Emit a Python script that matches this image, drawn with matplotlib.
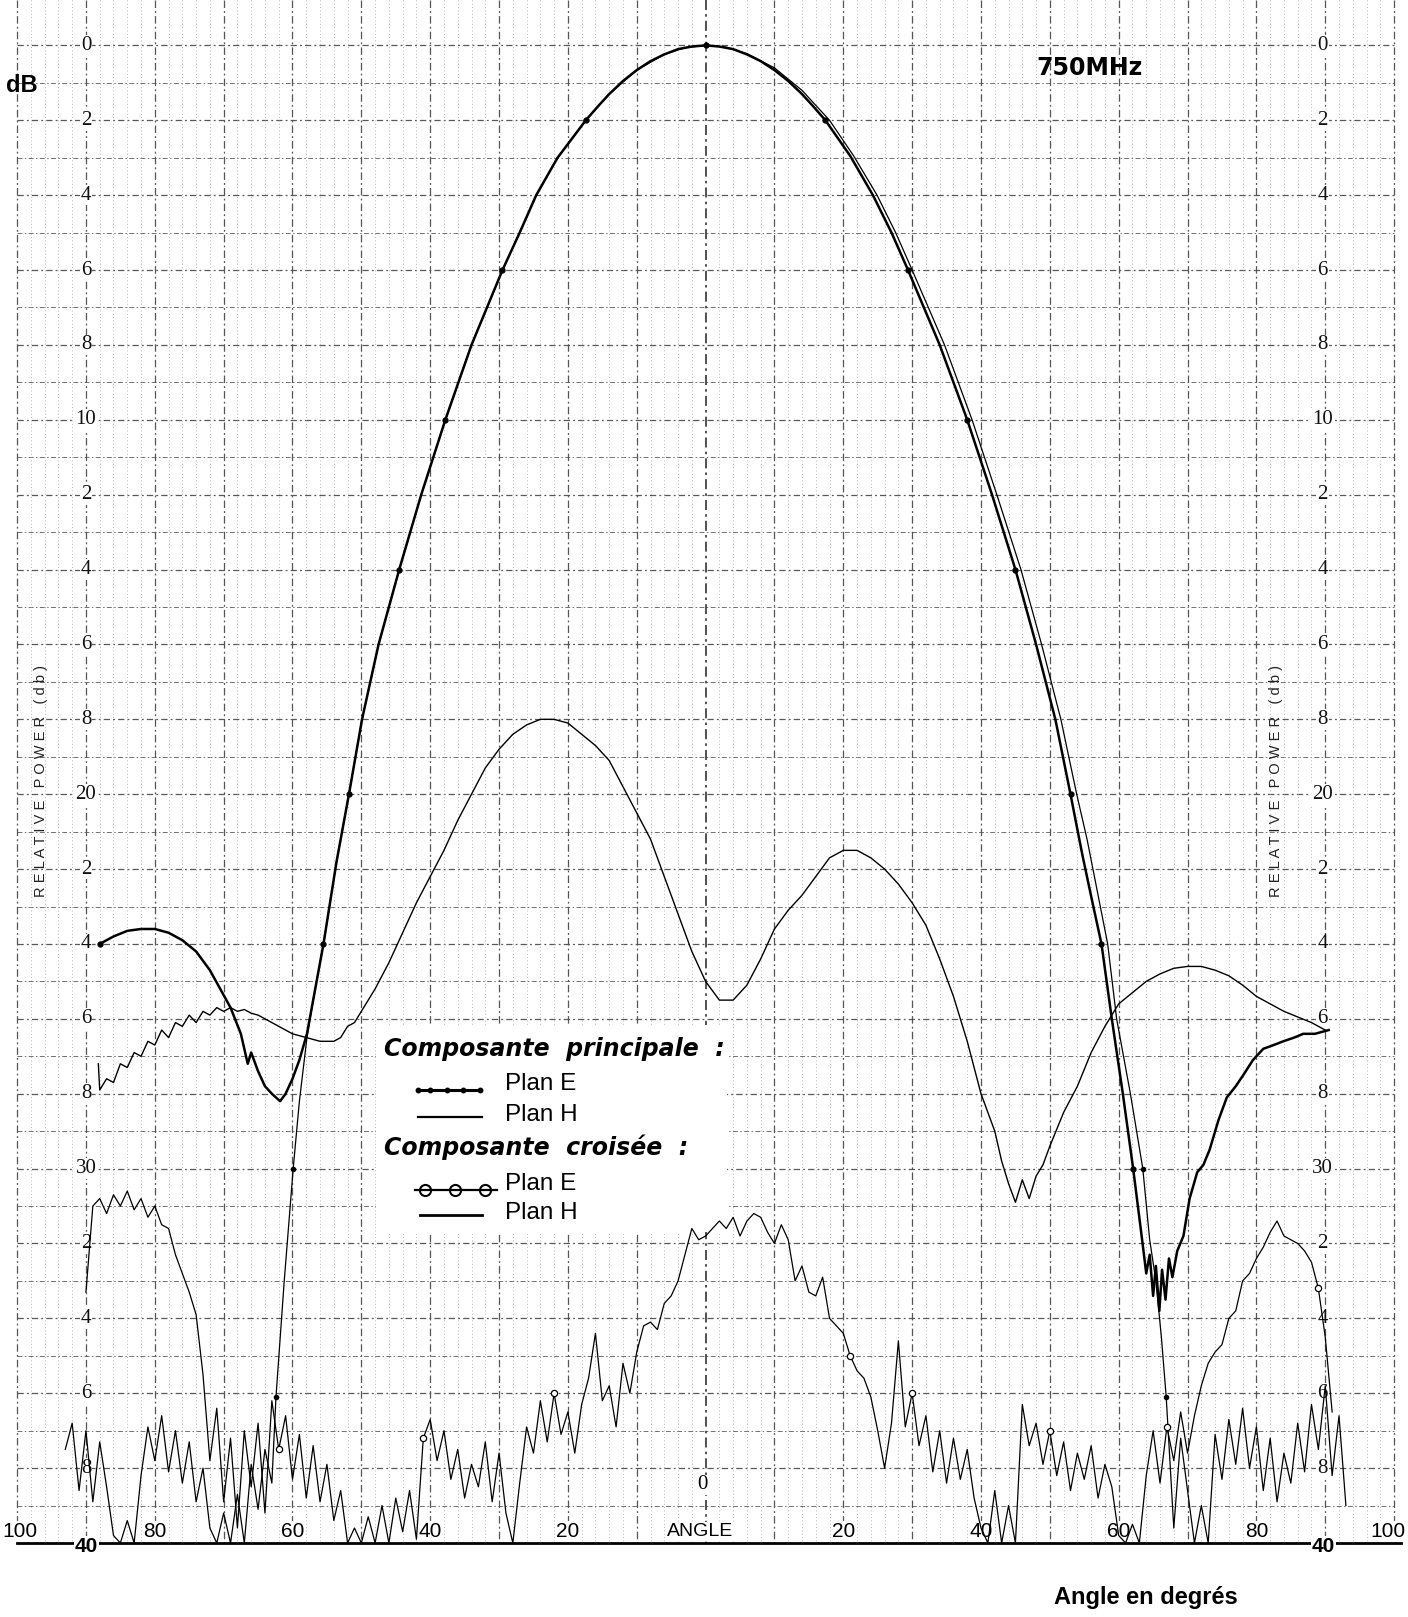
import numpy as np
import matplotlib
matplotlib.use("Agg")
import matplotlib.pyplot as plt
from matplotlib.patches import Rectangle
from matplotlib.lines import Line2D

plt.rcParams['font.family'] = ['Liberation Sans', 'DejaVu Sans']

# ---------------- data (angle in degrees, relative power in dB below peak) -------------
# Composante principale, plan E (thick line with dots)
pe_angle = [-88.0, -86.0, -84.0, -82.0, -80.0, -78.0, -76.0, -74.0, -72.0, -70.5, -69.0, -67.5,
            -66.5, -66.0, -65.0, -64.0, -63.0, -61.8, -61.0, -60.0, -59.0, -57.9, -56.8, -55.5,
            -53.6, -51.8, -49.9, -47.5, -44.5, -41.3, -37.8, -34.0, -29.5, -27.0, -24.6, -21.5,
            -17.4, -15.5, -14.0, -12.0, -10.0, -8.0, -6.0, -4.0, -2.0, 0.0, 2.0, 4.0, 6.0, 8.0,
            10.0, 12.0, 14.0, 15.5, 17.4, 21.0, 24.3, 27.0,
            29.4, 34.0, 38.0, 41.6, 45.0, 48.0, 50.8, 53.0, 54.7, 56.2, 57.5, 59.0, 60.6, 62.1,
            63.4, 64.0, 64.5, 65.0, 65.4, 65.9, 66.3, 66.8, 67.3, 67.8, 68.5, 69.4, 70.3, 71.4,
            72.3, 73.2, 74.5, 75.7, 77.0, 78.1, 79.5, 81.0, 82.5, 83.9, 85.5, 86.8, 88.5, 90.5]
pe_db = [24.0, 23.8, 23.65, 23.6, 23.6, 23.7, 23.9, 24.2, 24.7, 25.2, 25.7, 26.4,
         27.2, 26.9, 27.4, 27.8, 28.0, 28.2, 28.0, 27.6, 27.1, 26.4, 25.3, 24.0,
         21.8, 20.0, 18.0, 16.0, 14.0, 12.0, 10.0, 8.0, 6.0, 5.0, 4.0, 3.0,
         2.0, 1.6, 1.3, 0.95, 0.66, 0.42, 0.24, 0.1, 0.03, 0.0, 0.03, 0.1, 0.24, 0.42,
         0.66, 0.95, 1.3, 1.6, 2.0, 2.95, 4.0, 5.0,
         6.0, 8.0, 10.0, 12.0, 14.0, 16.0, 18.0, 20.0, 21.6, 22.9, 24.0, 26.0, 28.0, 30.0,
         31.9, 32.8, 32.3, 33.4, 32.6, 33.8, 32.7, 33.5, 32.4, 32.9, 32.2, 31.8, 30.8, 30.1,
         29.9, 29.5, 28.7, 28.1, 27.8, 27.5, 27.1, 26.8, 26.7, 26.6, 26.5, 26.4, 26.4, 26.3]

# Composante principale, plan H (thin line)
ph_angle = [-93, -92, -91, -90, -89, -88, -87, -86, -85, -84, -83, -82, -81, -80, -79, -78,
            -77, -76, -75, -74, -73, -72, -71, -70, -69, -68, -67, -66, -65, -64, -63,
            -62.4, -61.2, -59.9, -59.0, -57.9, -56.8, -55.5, -53.6, -51.8, -49.9, -47.5,
            -44.5, -41.3, -37.8, -34.0, -29.5, -27.0, -24.6, -21.5, -17.4, -14.0, -10.0,
            -6.0, -3.0, 0.0, 3.0, 6.0, 10.0, 14.0, 18.0, 21.5, 24.9, 27.6, 30.0, 34.7, 38.7,
            42.3, 45.8, 48.8, 51.6, 53.9, 55.4, 58.4, 59.7, 61.7, 63.5, 64.5, 65.4, 66.2,
            66.9, 67.5, 68.0, 69, 70, 71, 72, 73, 74, 75, 76, 77, 78, 79, 80, 81, 82, 83,
            84, 85, 86, 87, 88, 89, 90, 91, 92, 93]
ph_db = [37.5, 36.8, 38.6, 37.0, 38.9, 37.3, 38.5, 39.8, 40.0, 39.4, 40.0, 38.2, 36.9, 37.8,
         36.6, 38.1, 37.0, 38.4, 37.3, 38.9, 38.0, 39.6, 40.0, 39.2, 40.0, 38.7, 40.0, 37.9,
         39.1, 37.5, 38.4,
         36.1, 33.0, 30.0, 28.2, 26.5, 25.3, 24.0, 21.8, 20.0, 18.0, 16.0,
         14.0, 12.0, 10.0, 8.0, 6.0, 5.0, 4.0, 3.0, 2.0, 1.3, 0.66,
         0.24, 0.06, 0.0, 0.05, 0.22, 0.6, 1.2, 2.0, 2.95, 4.0, 5.0, 6.0, 8.0, 10.0,
         12.0, 14.0, 16.0, 18.0, 20.0, 21.2, 24.0, 26.0, 28.0, 30.0, 31.9, 33.0, 34.5,
         36.1, 38.0, 39.6, 37.2, 38.6, 40.0, 39.0, 40.0, 37.1, 38.3, 36.7, 37.9, 36.4, 38.0,
         36.9, 38.6, 37.2, 38.9, 37.6, 38.4, 36.8, 38.1, 36.3, 37.5, 35.8, 38.2, 36.6, 39.0]

# Composante croisee, plan H (broad smooth curve)
ch_angle = [-88.2, -88, -87, -86, -85, -84, -83, -82, -81, -80, -79, -78, -77, -76, -75, -74,
            -73, -72, -71, -70, -69, -68, -67, -66, -65, -64, -62, -60, -58, -56, -54, -53,
            -52, -51, -50, -48, -46, -44, -42, -40, -38, -36, -34, -32, -30, -28, -26, -24,
            -22, -20, -18, -16, -14, -12, -10, -8, -6, -4, -2, 0, 2, 4, 6, 8, 10, 12, 14, 16,
            18, 20, 22, 24, 26, 28, 30, 32, 34, 36, 38, 40, 42, 43, 44, 45, 46, 47, 48, 49,
            50, 52, 54, 56, 58, 60, 62, 64, 66, 68, 70, 72, 74, 76, 78, 80, 82, 84, 86, 88, 90]
ch_db = [27.2, 27.9, 27.6, 27.7, 27.2, 27.3, 26.9, 27.0, 26.6, 26.7, 26.3, 26.5, 26.1, 26.2,
         25.9, 26.1, 25.8, 25.9, 25.7, 25.8, 25.7, 25.8, 25.75, 25.85, 25.9, 26.0, 26.2, 26.4,
         26.5, 26.6, 26.6, 26.5, 26.2, 26.1, 25.8, 25.2, 24.5, 23.7, 22.9, 22.2, 21.5, 20.7,
         20.0, 19.3, 18.8, 18.4, 18.15, 18.0, 18.0, 18.1, 18.4, 18.7, 19.1, 19.8, 20.5, 21.2,
         22.2, 23.2, 24.2, 25.0, 25.5, 25.5, 25.1, 24.4, 23.6, 23.1, 22.7, 22.2, 21.7, 21.5,
         21.5, 21.7, 22.0, 22.4, 22.9, 23.5, 24.4, 25.4, 26.6, 28.0, 29.0, 29.8, 30.4, 30.9,
         30.3, 30.8, 30.2, 29.9, 29.4, 28.5, 27.8, 26.9, 26.2, 25.6, 25.3, 25.0, 24.8, 24.65,
         24.6, 24.6, 24.7, 24.85, 25.1, 25.4, 25.6, 25.8, 25.95, 26.1, 26.3]

# Composante croisee, plan E (noisy trace with open circles)
ce_angle = list(range(-90, 92))
ce_db = [33.3, 31.0, 30.8, 31.2, 30.7, 31.0, 30.6, 31.1, 30.8, 31.3, 31.0, 31.5, 31.6, 32.3,
         32.8, 33.3, 33.9,                                                   # -90 .. -74
         35.5, 37.8, 36.4, 38.9, 37.2, 39.6, 37.0, 38.5, 36.8, 39.2, 36.2, 37.5, 36.6, 38.3,
         37.1, 38.8, 37.4, 38.9, 37.9, 39.4, 38.6, 40.0, 39.6, 40.0, 39.3, 40.0, 39.0, 40.0,
         38.8, 39.7, 38.6, 39.9, 37.2, 36.7, 37.8, 37.0, 38.3, 37.5, 38.8, 37.9, 38.5, 37.3,
         38.9, 37.6, 39.2, 40.0, 38.4, 36.9, 37.6, 36.2, 37.3, 36.0, 37.1, 36.5, 37.6, 36.3,
         35.6, 34.4, 36.2, 35.8, 36.9, 35.2, 36.0,                           # -73 .. -11
         34.9, 34.2, 34.1, 34.3, 33.6, 33.4, 33.0, 32.3, 31.6, 31.9, 31.8, 31.6, 31.4, 31.6,
         31.3, 31.8, 31.4, 31.2, 31.3, 31.7, 32.0, 31.5, 31.9, 33.0, 32.6, 33.3, 33.4, 32.9,
         34.0, 34.2, 34.4, 35.0, 35.4, 35.6, 36.1, 37.0, 38.0,               # -10 .. 26
         36.8, 34.6, 36.9, 36.0, 37.4, 36.6, 38.1, 37.0, 38.4, 37.2, 38.3, 37.5, 38.8, 39.6,
         40.0, 38.6, 40.0, 39.0, 40.0, 36.3, 37.4, 36.8, 37.9, 37.0, 38.2, 37.3, 38.6, 37.6,
         38.3, 37.4, 38.8, 37.9, 38.5, 39.8, 40.0, 39.5, 40.0, 38.2, 37.0, 38.4, 36.9, 37.8,
         36.5, 37.6, 36.6,                                                   # 27 .. 71
         35.8, 35.2, 34.9, 34.7, 34.0, 33.8, 33.0, 32.8, 32.4, 32.1, 31.7, 31.4, 31.8, 31.9,
         32.0, 32.2, 32.5, 33.2, 34.5, 36.5]                                 # 72 .. 91

# Axis labels
y_ticks = [0, 2, 4, 6, 8, 10, 12, 14, 16, 18, 20, 22, 24, 26, 28, 30, 32, 34, 36, 38]
y_ticklabels = ['0', '2', '4', '6', '8', '10', '2', '4', '6', '8', '20', '2', '4', '6', '8',
                '30', '2', '4', '6', '8']
x_ticks = [-100, -80, -60, -40, -20, 0, 20, 40, 60, 80, 100]
x_ticklabels = ['100', '80', '60', '40', '20', 'ANGLE', '20', '40', '60', '80', '100']

# ---------------- figure ----------------
W, H = 1408, 1617
fig = plt.figure(figsize=(W / 100, H / 100), dpi=100)
fig.patch.set_facecolor('white')
x0_px, deg_px = 705.6, 6.885
y0_px, db_px = 45.4, 37.44
xl = (-x0_px / deg_px, (W - x0_px) / deg_px)
ybot = 40.3
ytop = -y0_px / db_px
ax_h = (y0_px + ybot * db_px) / H
ax = fig.add_axes([0, 1 - ax_h, 1, ax_h])
ax.set_xlim(*xl)
ax.set_ylim(ybot, ytop)
ax.axis('off')


def fx(px):
    return px / W


def fy(py):
    return 1 - py / H


# graph-paper grid (light, broken dashes like a scanned chart paper)
for d in np.arange(0, 40, 1):
    ax.plot([-100, 100], [d, d], color='#707070' if d % 2 else '#585858',
            lw=0.7 if d % 2 else 0.9, ls=(0, (5, 2.5, 1.5, 2.5)), zorder=1)
for a in np.arange(-100, 101, 2):
    if a % 10:
        ax.plot([a, a], [ytop, 40], color='#a0a0a0', lw=0.6, ls=(0, (1, 3)), zorder=1)
for a in np.arange(-100, 101, 10):
    ax.plot([a, a], [ytop, 40], color='#555555' if a else '#333333',
            lw=0.9 if a else 1.2, ls=(0, (6, 2.5, 1.5, 2.5)), zorder=1)
ax.plot([-100, 101], [40, 40], color='black', lw=2.0, zorder=2)

# curves
mark_levels = (0.0, 2.0, 6.0, 10.0, 14.0, 20.0, 24.0, 30.0)
pe_marks = [i for i, d in enumerate(pe_db) if d in mark_levels]
ax.plot(pe_angle, pe_db, color='black', lw=1.8, marker='o', ms=3.5,
        markevery=pe_marks, zorder=5, solid_joinstyle='round')
ph_marks = [i for i, d in enumerate(ph_db) if d in (30.0, 36.1)]
ax.plot(ph_angle, ph_db, color='black', lw=0.9, marker='o', ms=3.0,
        markevery=ph_marks, zorder=5)
ax.plot(ch_angle, ch_db, color='black', lw=1.0, zorder=5)
ce_marks = [i for i, a in enumerate(ce_angle) if a in (-62, -41, -22, 21, 30, 50, 67, 89)]
ax.plot(ce_angle, ce_db, color='black', lw=0.9, marker='o', ms=4.5, mfc='white',
        mew=0.9, markevery=ce_marks, zorder=5)

# y tick labels (both sides) and x tick labels
lab_bg = dict(facecolor='white', edgecolor='none', pad=0.6)
for v, t in zip(y_ticks, y_ticklabels):
    for xa in (-90.0, 89.6):
        ax.text(xa, v, t, ha='center', va='center', fontsize=15,
                family=['Liberation Serif', 'DejaVu Serif'], color='#111111',
                bbox=lab_bg, zorder=3)
for xa in (-89.9, 89.7):
    ax.text(xa, 40.1, '40', ha='center', va='center', fontsize=15, fontweight='bold',
            bbox=lab_bg, zorder=3)
for a, t in zip(x_ticks, x_ticklabels):
    if a == -100:
        ax.text(xl[0] + 0.3, 39.7, t, ha='left', va='center', fontsize=15, bbox=lab_bg, zorder=3)
    elif a == 100:
        ax.text(xl[1] - 0.3, 39.7, t, ha='right', va='center', fontsize=15, bbox=lab_bg, zorder=3)
    else:
        ax.text(a if t != 'ANGLE' else -0.8, 39.7, t, ha='center', va='center',
                fontsize=14 if t == 'ANGLE' else 15, bbox=lab_bg, zorder=3)
ax.text(-0.4, 38.45, '0', ha='center', va='center', fontsize=15,
        family=['Liberation Serif', 'DejaVu Serif'], bbox=lab_bg, zorder=3)

ylab = '   '.join(' '.join(w) for w in ['RELATIVE', 'POWER', '(db)'])
ax.text(-96.5, 19.65, ylab, rotation=90, ha='center', va='center', fontsize=10.5,
        color='#222222', zorder=3)
ax.text(82.8, 19.65, ylab, rotation=90, ha='center', va='center', fontsize=10.5,
        color='#222222', zorder=3)

# titles
fig.text(fx(22), fy(86), 'dB', ha='center', va='center', fontsize=17, fontweight='bold')
fig.text(fx(1090), fy(68), '750MHz', ha='center', va='center', fontsize=17,
         fontweight='bold', family='DejaVu Sans')
fig.text(fx(1146), fy(1597), 'Angle en degrés', ha='center', va='center', fontsize=17,
         fontweight='bold')

# legend box (figure pixel layout)
tf = fig.transFigure
ax.add_patch(Rectangle((fx(376), fy(1232)), fx(727) - fx(376), fy(1025) - fy(1232),
                       transform=tf, facecolor='white', edgecolor='none', zorder=4))
hdr = dict(ha='left', va='center', fontsize=17, fontweight='bold', style='oblique',
           family='DejaVu Sans', transform=tf, zorder=6)
ent = dict(ha='left', va='center', fontsize=17.5, transform=tf, zorder=6)
ax.text(fx(384), fy(1049), 'Composante  principale  :', **hdr)
ax.text(fx(505), fy(1084), 'Plan E', **ent)
ax.text(fx(505), fy(1115), 'Plan H', **ent)
ax.text(fx(384), fy(1147), 'Composante  croisée  :', **hdr)
ax.text(fx(505), fy(1184), 'Plan E', **ent)
ax.text(fx(505), fy(1213), 'Plan H', **ent)
ax.add_line(Line2D([fx(418), fx(480)], [fy(1090), fy(1090)], transform=tf, color='black',
                   lw=2.2, marker='o', ms=3.2, markevery=[0, 1], zorder=6))
ax.add_line(Line2D([fx(430), fx(447), fx(463)], [fy(1090)] * 3, transform=tf, color='black',
                   lw=0, marker='o', ms=3.2, zorder=6))
ax.add_line(Line2D([fx(418), fx(482)], [fy(1117), fy(1117)], transform=tf, color='black',
                   lw=1.6, zorder=6))
ax.add_line(Line2D([fx(415), fx(497)], [fy(1190), fy(1190)], transform=tf, color='black',
                   lw=1.6, zorder=6))
ax.add_line(Line2D([fx(425), fx(455), fx(485)], [fy(1190)] * 3, transform=tf, color='black',
                   lw=0, marker='o', ms=8, mfc='none', mew=1.5, zorder=6))
ax.add_line(Line2D([fx(420), fx(482)], [fy(1215), fy(1215)], transform=tf, color='black',
                   lw=2.0, zorder=6))

fig.savefig('out.png', dpi=100, facecolor='white')
